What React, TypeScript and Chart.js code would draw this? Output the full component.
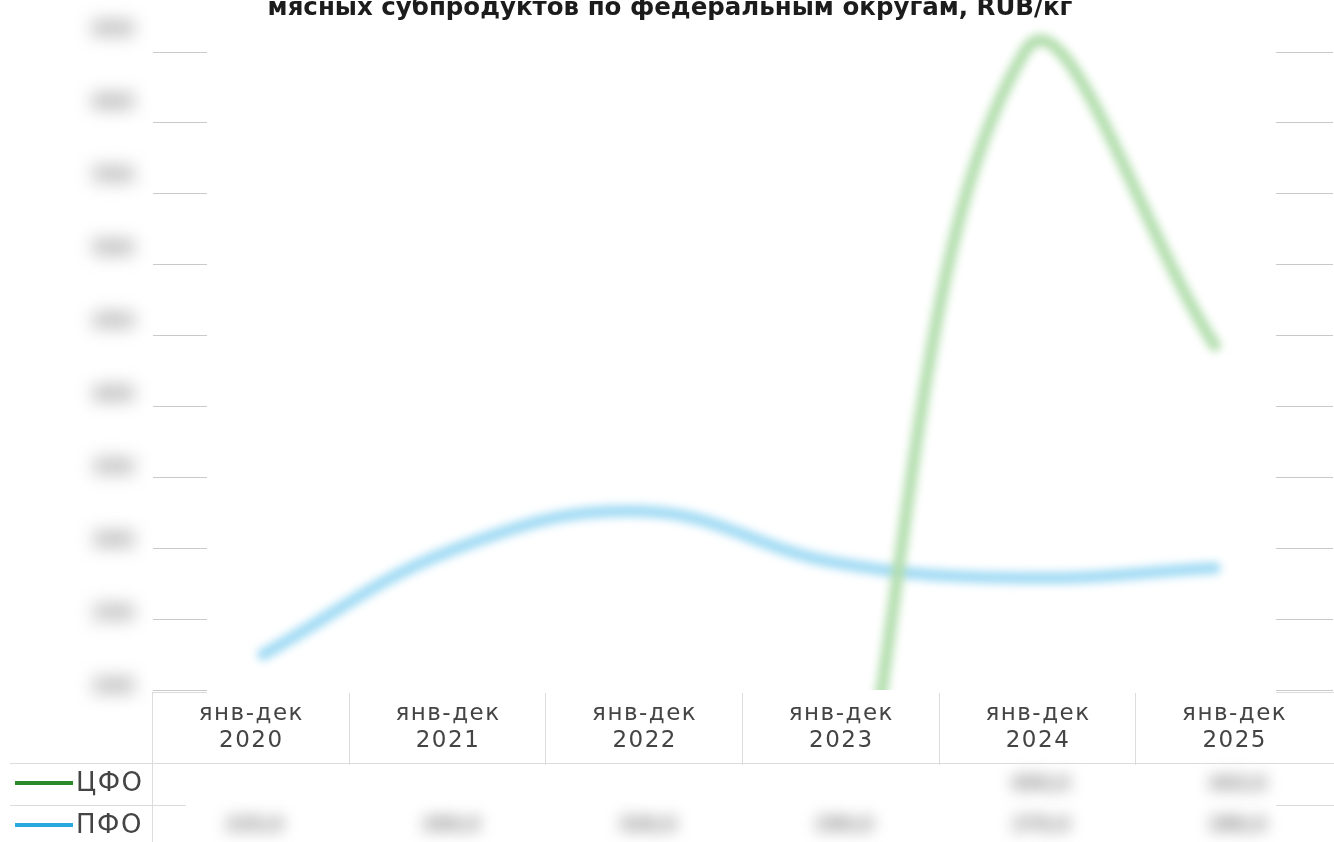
import React, { useEffect, useRef } from "react";
import { Chart, registerables } from "chart.js";

Chart.register(...registerables);

const titleText = "мясных субпродуктов по федеральным округам, RUB/кг";
const periods = ["янв-дек", "янв-дек", "янв-дек", "янв-дек", "янв-дек", "янв-дек"];
const years = ["2020", "2021", "2022", "2023", "2024", "2025"];
const seriesNames = ["ЦФО", "ПФО"];
const cfoValues: (number | null)[] = [null, null, null, 0, 650, 443];
const pfoValues: (number | null)[] = [225, 299, 326, 290, 279, 286];
const yMin = 200;
const yMax = 650;
const yStep = 50;
const legendColors = ["#2b8a2b", "#2aa8e0"];
const lineColors = ["#b3deae", "#a2dbf4"];

const FONT = "'DejaVu Sans', sans-serif";

const fmt = (v: number) => v.toFixed(1).replace(".", ",");

const tablePlugin = {
  id: "tablePlugin",
  beforeDraw(chart: any) {
    (chart.ctx as any).letterSpacing = "1.5px";
  },
  beforeDatasetsDraw(chart: any) {
    const { ctx, chartArea, scales, height } = chart;
    (ctx as any).letterSpacing = "0px";
    const xs = scales.x;
    const left = chartArea.left;
    const right = chartArea.right;
    const headTop = chartArea.bottom + 2;
    const headBottom = xs.bottom;
    const rowH = 42;
    const bw = xs.getPixelForValue(1) - xs.getPixelForValue(0);
    ctx.save();
    ctx.strokeStyle = "#dcdcdc";
    ctx.lineWidth = 1;
    ctx.beginPath();
    ctx.moveTo(left, headTop + 0.5);
    ctx.lineTo(right + 1, headTop + 0.5);
    for (let i = 0; i < years.length; i++) {
      const xe = Math.round(xs.getPixelForValue(0) - bw / 2 + i * bw) - 0.5;
      ctx.moveTo(xe, headTop);
      ctx.lineTo(xe, height);
    }
    ctx.moveTo(10, headBottom + 0.5);
    ctx.lineTo(right + 1, headBottom + 0.5);
    ctx.moveTo(10, headBottom + rowH + 0.5);
    ctx.lineTo(right + 1, headBottom + rowH + 0.5);
    ctx.stroke();
    // haze overlays
    ctx.fillStyle = "#ffffff";
    ctx.fillRect(left + 54, chartArea.top - 14, right - left - 111, chartArea.bottom + 3 - (chartArea.top - 14));
    ctx.fillRect(left + 33, headBottom + 2, right - left - 90, height - headBottom - 2);
    ctx.restore();
  },
  beforeDatasetDraw(chart: any) {
    chart.ctx.save();
    chart.ctx.filter = "blur(4px)";
  },
  afterDatasetDraw(chart: any) {
    chart.ctx.restore();
  },
  afterDraw(chart: any) {
    const { ctx, chartArea, scales } = chart;
    const xs = scales.x;
    const ys = scales.y;
    ctx.save();
    (ctx as any).letterSpacing = "0px";
    // title
    ctx.fillStyle = "#1c1c1c";
    ctx.font = `bold 24.5px ${FONT}`;
    ctx.textAlign = "center";
    ctx.textBaseline = "alphabetic";
    ctx.fillText(titleText, 670, 15);
    // blurred y labels
    ctx.filter = "blur(9px)";
    ctx.fillStyle = "#787878";
    ctx.font = `bold 20px ${FONT}`;
    ctx.textBaseline = "middle";
    ys.ticks.forEach((t: any, i: number) => {
      const py = ys.getPixelForTick(i);
      const ly = chartArea.bottom - 3 - (chartArea.bottom - py) * 1.03;
      ctx.fillText(String(t.value), 113, ly);
    });
    // blurred table values
    const headBottom = xs.bottom;
    const rows = [cfoValues, pfoValues];
    ctx.filter = "blur(8px)";
    ctx.fillStyle = "#6a6a6a";
    ctx.font = `bold 18px ${FONT}`;
    rows.forEach((vals, r) => {
      const cy = headBottom + 21 + r * 41;
      vals.forEach((v, i) => {
        if (v === null || v === 0) return;
        ctx.fillText(fmt(v), xs.getPixelForValue(i) + 3, cy);
      });
    });
    ctx.filter = "none";
    // legend cells
    seriesNames.forEach((name, r) => {
      const cy = headBottom + 20 + r * 42;
      ctx.strokeStyle = legendColors[r];
      ctx.lineWidth = 4;
      ctx.beginPath();
      ctx.moveTo(15, cy);
      ctx.lineTo(73, cy);
      ctx.stroke();
      ctx.fillStyle = "#444444";
      ctx.font = `26px ${FONT}`;
      (ctx as any).letterSpacing = "1.5px";
      ctx.textAlign = "left";
      ctx.textBaseline = "middle";
      ctx.fillText(name, 76, cy + 1);
      (ctx as any).letterSpacing = "0px";
    });
    ctx.restore();
  },
};

const lineDataset = (i: number, values: (number | null)[]) => ({
  label: seriesNames[i],
  data: values.map((v, k) => ({ x: k, y: v })),
  xAxisID: "xl",
  borderColor: lineColors[i],
  backgroundColor: lineColors[i],
  borderWidth: 12,
  pointRadius: 0,
  tension: 0.4,
  capBezierPoints: false,
  borderCapStyle: "round",
  clip: { left: false, top: false, right: false, bottom: 0 },
});

export default function App() {
  const ref = useRef<HTMLCanvasElement | null>(null);
  useEffect(() => {
    if (!ref.current) return;
    const labels = years.map((y, i) => [periods[i], y]);
    const chart = new Chart(ref.current, {
      type: "line",
      data: {
        labels,
        datasets: [lineDataset(0, cfoValues), lineDataset(1, pfoValues)],
      },
      options: {
        animation: false,
        responsive: false,
        devicePixelRatio: 1,
        layout: { padding: { top: 52, bottom: 79, left: 0, right: 1 } },
        plugins: {
          legend: { display: false },
          title: { display: false },
          tooltip: { enabled: false },
        },
        scales: {
          x: {
            type: "category",
            offset: true,
            grid: { display: false, drawTicks: false },
            border: { display: false },
            ticks: {
              color: "#444444",
              font: { family: FONT, size: 23 },
              padding: 10,
              maxRotation: 0,
              autoSkip: false,
            },
            afterFit: (s: any) => {
              s.height = 73;
            },
          },
          xl: {
            type: "linear",
            display: false,
            min: -0.578,
            max: 5.62,
          },
          y: {
            min: yMin,
            max: yMax,
            ticks: { display: false, stepSize: yStep },
            grid: { color: "#c9c9c9", drawTicks: false },
            border: { display: false },
            afterFit: (s: any) => {
              s.width = 153;
            },
          },
        },
      },
      plugins: [tablePlugin],
    } as any);
    return () => chart.destroy();
  }, []);
  return (
    <div style={{ position: "absolute", left: 0, top: 0, width: 1334, height: 842, background: "#fff" }}>
      <canvas ref={ref} width={1334} height={842} />
    </div>
  );
}
